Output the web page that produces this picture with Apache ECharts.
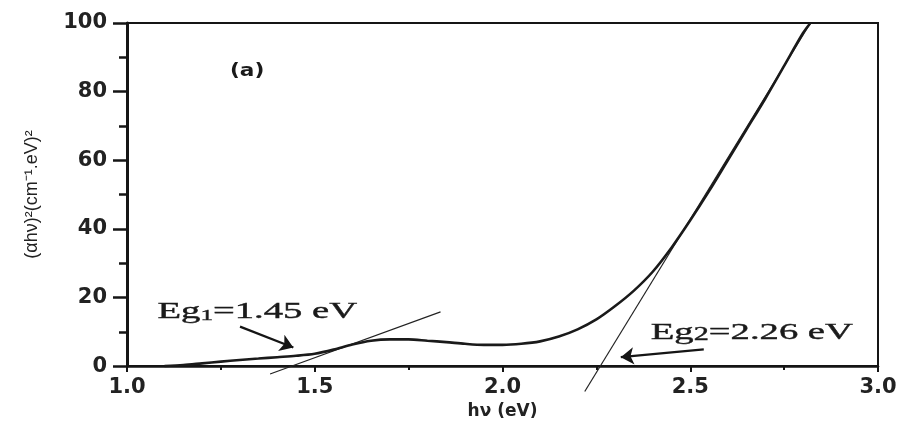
<!DOCTYPE html>
<html><head><meta charset="utf-8">
<script src="https://cdn.jsdelivr.net/npm/echarts@6/dist/echarts.min.js"></script>
<style>html,body{margin:0;padding:0;background:#fff}#c{width:904px;height:425px}</style>
</head><body><div id="c"></div>
<script>
// photon energy hv (eV)
const hvValues = [1.10,1.15,1.20,1.25,1.30,1.35,1.40,1.45,1.50,1.55,1.60,1.65,1.70,1.75,1.80,1.85,1.90,1.95,2.00,2.05,2.10,2.15,2.20,2.25,2.30,2.35,2.40,2.45,2.50,2.55,2.60,2.65,2.70,2.75,2.80,2.82];
// (alpha h v)^2
const absValues = [0,0.3,0.8,1.3,1.8,2.2,2.6,3.0,3.6,4.8,6.3,7.4,7.8,7.8,7.4,7.0,6.5,6.2,6.2,6.5,7.2,8.6,10.7,13.6,17.5,22.0,27.5,34.5,42.5,51,60,69,78,87.5,97,100];
// tangent (extrapolation) lines
const tangent1X = [1.381, 1.835];
const tangent1Y = [-2.3, 15.8];
const tangent2X = [2.219, 2.82];
const tangent2Y = [-7.4, 100];
// arrows: [tailX, tailY, tipX, tipY]
const arrow1 = [1.301, 11.5, 1.443, 5.4];
const arrow2 = [2.536, 4.9, 2.315, 2.6];
// tick labels
const xTickLabels = ['1.0','1.5','2.0','2.5','3.0'];
const yTickLabels = ['0','20','40','60','80','100'];
// annotation texts and anchors
const noteTexts = ['Eg{s|1}=1.45 eV', 'Eg{s|2}=2.26 eV', '(a)'];
const noteX = [1.347, 2.664, 1.32];
const noteY = [15.8, 9.7, 86];

const chart = echarts.init(document.getElementById('c'), null, {renderer:'canvas'});
const curve = hvValues.map((x,i)=>[x, absValues[i]]);
const t1 = tangent1X.map((x,i)=>[x, tangent1Y[i]]);
const t2 = tangent2X.map((x,i)=>[x, tangent2Y[i]]);
const ink = '#151515';

chart.setOption({
  animation:false,
  backgroundColor:'#fff',
  grid:{left:127,right:26,top:23,bottom:53,show:true,borderColor:ink,borderWidth:2,backgroundColor:'transparent'},
  xAxis:{type:'value',min:1,max:3,interval:0.5,
    name:'hν (eV)',nameLocation:'middle',nameGap:30,
    nameTextStyle:{fontFamily:'DejaVu Sans',fontWeight:'bold',fontSize:17,color:'#222'},
    axisLine:{show:true,onZero:false,lineStyle:{color:ink,width:2.5}},
    axisTick:{show:true,length:6,lineStyle:{color:ink,width:2}},
    minorTick:{show:true,splitNumber:2,length:4,lineStyle:{color:ink,width:2}},
    axisLabel:{margin:11,fontFamily:'DejaVu Sans',fontWeight:'bold',fontSize:21,color:'#222',
      formatter:(v,i)=>xTickLabels[i]},
    splitLine:{show:false}},
  yAxis:{type:'value',min:0,max:100,interval:20,
    name:'(αhν)²(cm⁻¹.eV)²',nameLocation:'middle',nameGap:86,nameRotate:90,
    nameTextStyle:{fontFamily:'Liberation Sans',fontSize:18,color:'#222'},
    axisLine:{show:true,lineStyle:{color:ink,width:3}},
    axisTick:{show:true,length:14,lineStyle:{color:ink,width:2.5}},
    minorTick:{show:true,splitNumber:2,length:8,lineStyle:{color:ink,width:2.5}},
    axisLabel:{margin:20,fontFamily:'DejaVu Sans',fontWeight:'bold',fontSize:21,color:'#222',
      formatter:(v,i)=>yTickLabels[i]},
    splitLine:{show:false}},
  series:[
    {type:'line',data:curve,smooth:0.3,showSymbol:false,lineStyle:{color:'#1a1a1a',width:2.6},z:5},
    {type:'line',data:t1,showSymbol:false,clip:false,lineStyle:{color:'#222',width:1.2},z:4},
    {type:'line',data:t2,showSymbol:false,clip:false,lineStyle:{color:'#222',width:1.2},z:4},
    {type:'lines',coordinateSystem:'cartesian2d',symbol:['none','arrow'],symbolSize:13,
      lineStyle:{color:ink,width:2.2,opacity:1,curveness:0},
      data:[{coords:[[arrow1[0],arrow1[1]],[arrow1[2],arrow1[3]]]},
            {coords:[[arrow2[0],arrow2[1]],[arrow2[2],arrow2[3]]]}],z:6}
  ]
});

const fonts = [
  {family:'Liberation Serif',size:23,weight:'normal',sx:1.68,sub:15},
  {family:'Liberation Serif',size:23,weight:'normal',sx:1.68,sub:18},
  {family:'DejaVu Sans',size:18,weight:'bold',sx:1.2,sub:12}
];
const graphics = noteTexts.map((t,i)=>{
  const p = chart.convertToPixel({gridIndex:0},[noteX[i],noteY[i]]);
  const f = fonts[i];
  return {type:'text',x:p[0],y:p[1],scaleX:f.sx,z:10,
    style:{text:t,fontFamily:f.family,fontSize:f.size,fontWeight:f.weight,fill:'#1a1a1a',
      stroke:'#1a1a1a',lineWidth:i<2?0.4:0,
      align:'center',verticalAlign:'middle',
      rich:{s:{fontFamily:f.family,fontSize:f.sub,verticalAlign:'bottom',fill:'#1a1a1a',stroke:'#1a1a1a',lineWidth:0.4}}}};
});
chart.setOption({graphic:graphics});
</script></body></html>
